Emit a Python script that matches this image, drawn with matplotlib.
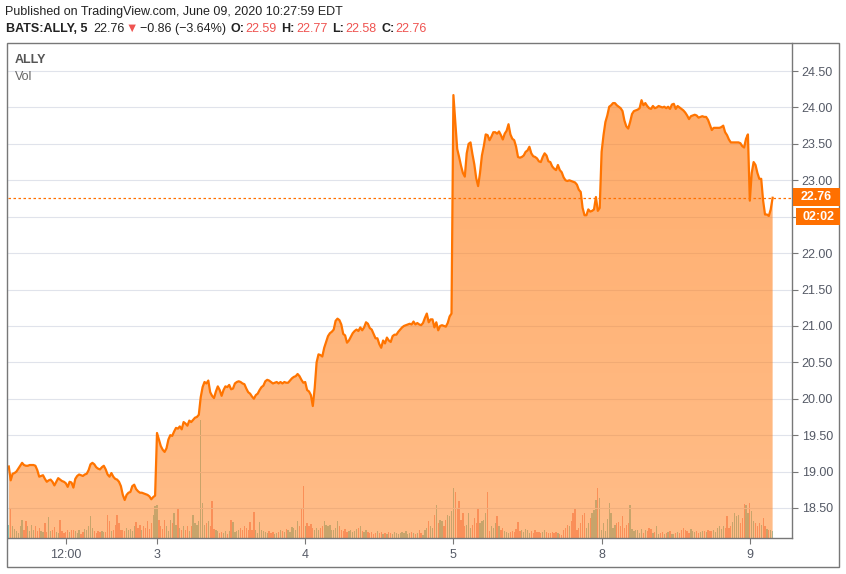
import numpy as np
import matplotlib.pyplot as plt
from matplotlib.patches import Rectangle

plt.rcParams['font.family'] = ['Liberation Sans', 'DejaVu Sans']

# 5-minute closes of BATS:ALLY (78 bars per session)
jun02 = [19.07, 18.88, 18.97, 18.98, 19.00, 19.04, 19.08, 19.12, 19.09, 19.08,
         19.08, 19.09, 19.09, 19.09, 19.08, 19.02, 18.93, 18.94, 18.95, 18.90,
         18.86, 18.88, 18.89, 18.86, 18.81, 18.86, 18.91, 18.89, 18.87, 18.86,
         18.84, 18.79, 18.86, 18.85, 18.78, 18.90, 18.94, 18.96, 18.95, 18.94,
         18.96, 18.97, 19.02, 19.10, 19.12, 19.10, 19.06, 19.04, 19.03, 19.06,
         19.08, 19.03, 18.96, 18.93, 18.98, 18.93, 18.90, 18.89, 18.86, 18.80,
         18.68, 18.61, 18.68, 18.71, 18.72, 18.80, 18.82, 18.76, 18.73, 18.71,
         18.71, 18.70, 18.69, 18.68, 18.66, 18.62, 18.65, 18.67]
jun03 = [19.53, 19.44, 19.35, 19.30, 19.27, 19.32, 19.44, 19.50, 19.49, 19.55,
         19.60, 19.59, 19.62, 19.58, 19.68, 19.66, 19.63, 19.70, 19.68, 19.71,
         19.74, 19.75, 19.78, 20.02, 20.16, 20.23, 20.21, 20.25, 20.09, 20.04,
         20.01, 20.10, 20.17, 20.12, 20.04, 20.12, 20.17, 20.16, 20.19, 20.13,
         20.14, 20.21, 20.23, 20.24, 20.23, 20.21, 20.20, 20.14, 20.09, 20.07,
         20.03, 20.00, 20.05, 20.07, 20.12, 20.16, 20.18, 20.24, 20.26, 20.25,
         20.23, 20.21, 20.22, 20.23, 20.21, 20.23, 20.21, 20.23, 20.22, 20.22,
         20.25, 20.28, 20.30, 20.31, 20.34, 20.31, 20.26, 20.22]
jun04 = [20.23, 20.12, 20.10, 20.05, 19.90, 20.15, 20.50, 20.61, 20.60, 20.58,
         20.70, 20.78, 20.86, 20.90, 20.92, 20.95, 21.07, 21.10, 21.08, 21.02,
         20.89, 20.87, 20.77, 20.80, 20.85, 20.90, 20.93, 20.95, 20.93, 20.98,
         20.94, 20.98, 21.05, 21.03, 20.97, 20.95, 20.89, 20.83, 20.83, 20.75,
         20.70, 20.80, 20.76, 20.84, 20.80, 20.78, 20.86, 20.88, 20.88, 20.92,
         20.95, 20.98, 21.00, 21.01, 21.02, 21.03, 21.02, 21.06, 21.02, 21.04,
         21.02, 21.01, 21.04, 21.11, 21.17, 21.05, 21.09, 21.09, 20.98, 21.05,
         20.94, 21.00, 21.01, 21.00, 20.99, 21.04, 21.13, 21.17]
jun05 = [24.17, 23.80, 23.43, 23.32, 23.20, 23.10, 23.05, 23.37, 23.50, 23.52,
         23.36, 23.22, 23.03, 22.92, 23.10, 23.34, 23.47, 23.63, 23.62, 23.55,
         23.60, 23.66, 23.66, 23.64, 23.67, 23.62, 23.56, 23.64, 23.68, 23.77,
         23.63, 23.57, 23.55, 23.46, 23.32, 23.31, 23.32, 23.34, 23.39, 23.41,
         23.46, 23.37, 23.33, 23.32, 23.30, 23.26, 23.25, 23.32, 23.37, 23.34,
         23.26, 23.25, 23.19, 23.16, 23.14, 23.21, 23.14, 23.11, 23.04, 23.00,
         22.99, 23.00, 22.99, 22.98, 22.97, 22.94, 22.87, 22.84, 22.62, 22.52,
         22.52, 22.60, 22.57, 22.58, 22.60, 22.77, 22.58, 22.62]
jun08 = [23.39, 23.62, 23.80, 23.89, 24.01, 24.03, 24.06, 24.06, 24.03, 24.01,
         23.99, 23.95, 23.82, 23.74, 23.71, 23.80, 23.91, 23.95, 23.96, 23.97,
         23.99, 24.10, 24.03, 24.06, 24.02, 23.99, 23.98, 24.02, 23.99, 24.00,
         24.02, 24.01, 24.00, 24.01, 23.99, 24.01, 23.98, 24.04, 24.05, 23.98,
         24.02, 24.00, 23.98, 23.96, 23.93, 23.89, 23.84, 23.88, 23.89, 23.90,
         23.89, 23.86, 23.87, 23.88, 23.87, 23.87, 23.83, 23.76, 23.69, 23.72,
         23.72, 23.72, 23.72, 23.73, 23.75, 23.66, 23.62, 23.56, 23.52, 23.52,
         23.52, 23.52, 23.52, 23.51, 23.47, 23.45, 23.57, 23.63]
jun09 = [22.72, 23.10, 23.25, 23.21, 23.10, 23.02, 23.02, 22.72, 22.53, 22.53,
         22.51, 22.60, 22.76]

# volume per bar (relative)
vol02 = [13, 29, 12, 9, 7, 5, 12, 18, 8, 17, 12, 7, 13, 8, 12, 7, 10, 7, 6, 15,
         6, 21, 7, 8, 11, 6, 5, 18, 7, 5, 6, 8, 6, 8, 8, 7, 5, 8, 4, 6,
         9, 8, 12, 22, 10, 7, 5, 7, 6, 7, 6, 6, 23, 17, 7, 8, 13, 23, 15, 8,
         8, 7, 10, 8, 9, 7, 12, 16, 10, 13, 8, 12, 10, 17, 9, 15, 23, 32]
vol03 = [33, 18, 12, 9, 18, 12, 7, 18, 15, 25, 13, 29, 10, 8, 12, 8, 12, 7, 12, 23,
         15, 13, 17, 118, 35, 13, 15, 17, 12, 37, 9, 8, 7, 5, 6, 5, 7, 4, 7, 18,
         16, 6, 7, 8, 10, 8, 12, 10, 8, 16, 8, 26, 8, 5, 16, 8, 7, 6, 5, 7,
         5, 6, 4, 5, 6, 8, 7, 6, 9, 8, 6, 11, 10, 8, 17, 12, 30, 52]
vol04 = [12, 15, 12, 14, 10, 8, 10, 8, 10, 12, 17, 13, 12, 13, 8, 8, 10, 17, 12, 8,
         7, 9, 6, 7, 8, 6, 7, 9, 10, 12, 7, 6, 8, 6, 5, 6, 4, 5, 7, 5,
         6, 4, 5, 4, 6, 5, 4, 6, 5, 4, 5, 6, 5, 7, 4, 5, 6, 5, 4, 5,
         8, 5, 3, 8, 10, 17, 12, 10, 23, 33, 15, 18, 17, 12, 18, 23, 22, 27]
vol05 = [50, 46, 30, 37, 18, 25, 12, 13, 25, 10, 13, 20, 15, 30, 15, 17, 18, 25, 46, 7,
         12, 10, 15, 22, 12, 8, 10, 7, 6, 5, 6, 7, 6, 9, 16, 7, 8, 6, 9, 8,
         5, 7, 5, 8, 6, 6, 5, 6, 8, 6, 5, 5, 6, 5, 6, 5, 4, 3, 8, 10,
         13, 12, 17, 25, 30, 8, 10, 15, 23, 25, 10, 15, 20, 25, 28, 38, 50, 40]
vol08 = [8, 15, 7, 19, 35, 25, 10, 13, 15, 16, 12, 22, 10, 13, 15, 33, 9, 7, 8, 8,
         5, 9, 5, 8, 7, 10, 9, 5, 6, 12, 4, 5, 6, 4, 5, 6, 7, 4, 4, 5,
         6, 5, 8, 10, 8, 7, 5, 9, 7, 6, 7, 5, 6, 7, 7, 6, 8, 7, 7, 8,
         6, 10, 12, 9, 12, 10, 22, 10, 12, 16, 25, 22, 23, 15, 20, 34, 33, 25]
vol09 = [35, 27, 17, 15, 12, 15, 13, 20, 12, 9, 8, 8, 7]

tick_pos = [30, 78, 156, 234, 312, 390]
tick_labels = ['12:00', '3', '4', '5', '8', '9']
price_ticks = np.arange(18.5, 24.51, 0.5)
last_price = 22.76
countdown = '02:02'

closes = np.array(jun02 + jun03 + jun04 + jun05 + jun08 + jun09)
volume = np.array(vol02 + vol03 + vol04 + vol05 + vol08 + vol09)
idx = np.arange(len(closes))

W, H = 846, 574
fig = plt.figure(figsize=(W / 100, H / 100), dpi=100)


def fx(px):
    return px / W


def fy(py):
    return 1 - py / H


rect = [fx(8), fy(538), fx(792) - fx(8), fy(43) - fy(538)]
ax_vol = fig.add_axes(rect, zorder=0)
ax = fig.add_axes(rect, zorder=1, sharex=ax_vol)
ax.patch.set_visible(False)

# volume underneath
up = np.r_[True, np.diff(closes) >= 0]
bar_cols = np.where(up, '#8ccdc6', '#f5a19e')
ax_vol.bar(idx, volume, width=0.65, color=bar_cols, lw=0)
ax_vol.set_ylim(0, 495)
ax_vol.axis('off')

ylo, yhi = 18.088, 24.885

# gridlines
ax.set_axisbelow(True)
ax.grid(axis='y', color='#e0e3eb', lw=0.8)
ax.grid(axis='x', visible=False)

# area with a light vertical gradient
poly = ax.fill_between(idx, closes, ylo, facecolor='none', edgecolor='none')
grad = np.ones((256, 1, 4))
grad[:, 0, 0] = 1.0
grad[:, 0, 1] = 0.5
grad[:, 0, 2] = 0.1
grad[:, 0, 3] = np.linspace(0.52, 0.64, 256)
im = ax.imshow(grad, origin='lower', aspect='auto', interpolation='bilinear',
               extent=[idx[0], idx[-1], ylo, closes.max()], zorder=1.5)
im.set_clip_path(poly.get_paths()[0], transform=ax.transData)

ax.axhline(last_price, color='#ff7000', lw=0.9, ls=(0, (2, 2)), zorder=2.5)
ax.plot(idx, closes, color='#ff7400', lw=1.6, zorder=3, solid_joinstyle='round')

ax.set_xlim(-0.42, 412.2)
ax.set_ylim(ylo, yhi)

# the 22.50 label sits under the last-price boxes, so it is left blank
ylabels = ['' if abs(t - 22.5) < 1e-6 else f'{t:.2f}' for t in price_ticks]
ax.yaxis.tick_right()
ax.set_yticks(price_ticks, labels=ylabels)
ax.set_xticks(tick_pos, labels=tick_labels)
ax.tick_params(axis='y', length=4, width=0.8, color='#787878', labelsize=9,
               labelcolor='#555a66', pad=3)
ax.tick_params(axis='x', length=4, width=0.8, color='#787878', labelsize=9,
               labelcolor='#555a66', pad=4)
for s in ['left', 'top']:
    ax.spines[s].set_visible(False)
for s in ['right', 'bottom']:
    ax.spines[s].set_color('#787878')
    ax.spines[s].set_linewidth(1.0)

# outer frame
fig.add_artist(Rectangle((fx(7), fy(567)), fx(839) - fx(7), fy(43) - fy(567),
                         transform=fig.transFigure, fill=False, ec='#787878', lw=1.0,
                         zorder=5))

# last price / countdown labels on the price scale
fig.add_artist(Rectangle((fx(793), fy(206)), fx(840) - fx(793), fy(188) - fy(206),
                         transform=fig.transFigure, color='#ff7000', lw=0, zorder=6))
fig.text(fx(816.5), fy(197), f'{last_price:.2f}', color='white', fontsize=9,
         fontweight='bold', ha='center', va='center', zorder=7)
fig.add_artist(Rectangle((fx(796), fy(225)), fx(840) - fx(796), fy(208) - fy(225),
                         transform=fig.transFigure, color='#ff7000', lw=0, zorder=6))
fig.text(fx(818), fy(216.5), countdown, color='white', fontsize=9,
         fontweight='bold', ha='center', va='center', zorder=7)

# legend labels
fig.text(fx(15), fy(60), 'ALLY', color='#555555', fontsize=9, fontweight='bold', va='center')
fig.text(fx(15), fy(77), 'Vol', color='#666666', fontsize=9, va='center')

# header
dark, red = '#222222', '#ef5350'
fig.text(fx(5), fy(12), 'Published on TradingView.com, June 09, 2020 10:27:59 EDT',
         color=dark, fontsize=9.0, va='center')
pieces = [('BATS:ALLY, 5', 'bold', dark, 6), ('22.76', 'normal', dark, 1),
          ('\u25bc', 'normal', red, 2), ('\u22120.86 (\u22123.64%)', 'normal', dark, 4),
          ('O:', 'bold', dark, 1), ('22.59', 'normal', red, 5),
          ('H:', 'bold', dark, 1), ('22.77', 'normal', red, 5),
          ('L:', 'bold', dark, 1), ('22.58', 'normal', red, 5),
          ('C:', 'bold', dark, 1), ('22.76', 'normal', red, 0)]
renderer = fig.canvas.get_renderer()
x_px = 6
for txt, wt, col, gap in pieces:
    t = fig.text(fx(x_px), fy(29), txt, color=col, fontsize=9.0, fontweight=wt,
                 va='center')
    bb = t.get_window_extent(renderer)
    x_px = bb.x1 + gap

fig.savefig('out.png', dpi=100)
